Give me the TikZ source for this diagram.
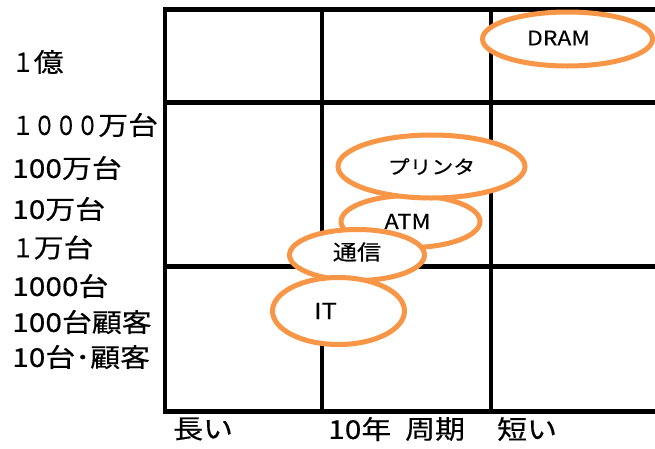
\documentclass[tikz,border=0pt]{standalone}
\usepackage{fontspec}
\usepackage{graphicx}
\setmainfont{Noto Sans CJK JP}[FakeStretch=1.15,FakeBold=0.4]
\usetikzlibrary{shapes}

\definecolor{accent}{RGB}{247,150,70}
\newcommand{\slim}[1]{\scalebox{0.72}[1]{#1}}

\begin{document}
\begin{tikzpicture} [x=1pt, y=-1pt, grid/.style={line width=4.5pt}, oval/.style={ellipse, draw=accent, fill=white, line width=5pt, inner sep=0pt}, axis/.style={anchor=west, inner sep=0pt, font=\fontsize{26}{30}\selectfont}, tag/.style={inner sep=0pt, font=\fontsize{21}{25}\selectfont}]
\useasboundingbox (0,0) rectangle (655,448);
  %% Grid
  \draw [grid] (660,9.5) -| (165,411.5) -- (660,411.5);
  \draw [grid] (165,102.5) -- (660,102.5);
  \draw [grid] (165,266.5) -- (660,266.5);
  \draw [grid] (322,9.5) -- (322,411.5);
  \draw [grid] (491,9.5) -- (491,411.5);
  % Products
  \node [oval, minimum width=170pt, minimum height=54pt] (dram) at (567.5,39) {};
  \node [tag, font=\fontsize{20}{24}\selectfont] (dramtext) at ([xshift=-9pt,yshift=1pt]dram.center) {DRAM};
  \node [oval, minimum width=139pt, minimum height=52pt] (atm) at (410.5,221.5) {};
  \node [tag, font=\fontsize{20.5}{24}\selectfont] (atmtext) at ([xshift=-3pt]atm.center) {ATM};
  \node [oval, minimum width=187pt, minimum height=63pt] (printer) at (431.5,166.5) {};
  \node [tag, font=\fontsize{19}{23}\selectfont] (printertext) at (printer.center) {プリンタ};
  \node [oval, minimum width=135pt, minimum height=51pt] (comm) at (357,255) {};
  \node [tag] (commtext) at ([yshift=3pt]comm.center) {通信};
  \node [oval, minimum width=132pt, minimum height=67pt] (it) at (338.5,311) {};
  \node [tag, font=\fontsize{22}{26}\selectfont] (ittext) at ([xshift=-13pt]it.center) {IT};
  % Volume axis
  \node [axis] (v1) at (12,62) {\slim{１}億};
  \node [axis] (v2) at (12,125) {\slim{１０００}万台};
  \node [axis] (v3) at (12,168) {100万台};
  \node [axis] (v4) at (12,209) {10万台};
  \node [axis] (v5) at (12,247.5) {\slim{１}万台};
  \node [axis] (v6) at (12,286) {1000台};
  \node [axis] (v7) at (12,322) {100台顧客};
  \node [axis] (v8) at (12,357) {10台･顧客};
  % Cycle axis
  \node [axis] (long) at (173,429) {長い};
  \node [axis] (ten) at (328,429) {10年};
  \node [axis] (cycle) at (405,429) {周期};
  \node [axis] (short) at (497,429) {短い};
\end{tikzpicture}
\end{document}
